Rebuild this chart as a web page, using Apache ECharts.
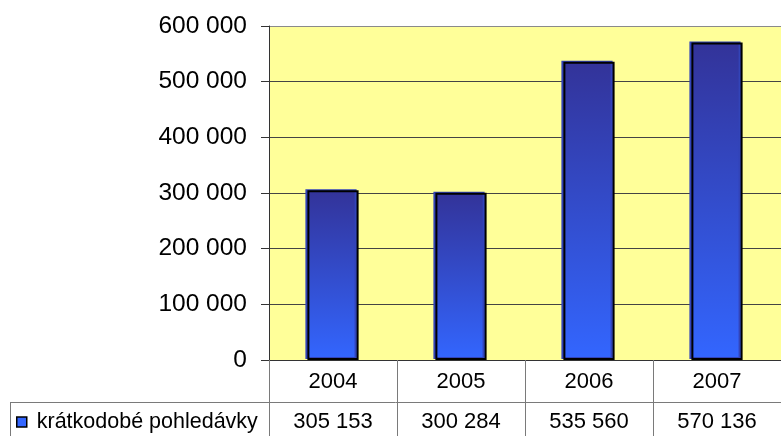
<!DOCTYPE html>
<html>
<head>
<meta charset="utf-8">
<script src="https://cdn.jsdelivr.net/npm/echarts@6/dist/echarts.min.js"></script>
<style>
  html, body { margin: 0; padding: 0; background: #fff; }
  #chart { width: 781px; height: 436px; }
</style>
</head>
<body>
<div id="chart"></div>
<script>
// Receivables by year
const years = ['2004', '2005', '2006', '2007'];
const receivables = [305153, 300284, 535560, 570136];
const seriesName = 'krátkodobé pohledávky';
const yTicks = [0, 100000, 200000, 300000, 400000, 500000, 600000];

const FONT = '"Liberation Sans", Arial, sans-serif';
const FS_TABLE = 22;
const FS_LEGEND = 21.5;
const FS_AXIS = 24.5;

// thousands grouped with a space, e.g. 305 153
function group(n) {
  return String(n).replace(/\B(?=(\d{3})+(?!\d))/g, ' ');
}

const chart = echarts.init(document.getElementById('chart'), null, { renderer: 'canvas' });

const gridLeft = 269, gridTop = 26, gridBottom = 76, tableRowY = 402;

chart.setOption({
  animation: false,
  backgroundColor: '#ffffff',
  grid: {
    left: gridLeft, top: gridTop, right: -9, bottom: gridBottom,
    show: true, backgroundColor: '#FFFF99', borderWidth: 0
  },
  legend: {
    data: [seriesName],
    left: 16, top: 411,
    icon: 'rect', itemWidth: 10, itemHeight: 10, itemGap: 0,
    padding: 0,
    itemStyle: { color: '#3366FF', borderColor: '#000', borderWidth: 1.5 },
    textStyle: { fontFamily: FONT, fontSize: FS_LEGEND, color: '#000', padding: [0, 0, 0, 5] }
  },
  xAxis: [
    {
      type: 'category',
      data: years,
      position: 'bottom',
      boundaryGap: true,
      axisLine: { show: true, lineStyle: { color: '#333', width: 1 } },
      axisTick: { show: true, length: 80, lineStyle: { color: '#7a7a7a', width: 1 } },
      axisLabel: { margin: 11, fontFamily: FONT, fontSize: FS_TABLE, color: '#000' },
      splitLine: { show: false }
    },
    {
      type: 'category',
      data: years,
      position: 'bottom',
      offset: tableRowY - (436 - gridBottom),
      boundaryGap: true,
      axisLine: { show: false },
      axisTick: { show: false },
      axisLabel: {
        margin: 9, fontFamily: FONT, fontSize: FS_TABLE, color: '#000',
        formatter: (v, i) => group(receivables[i])
      },
      splitLine: { show: false }
    }
  ],
  yAxis: {
    type: 'value',
    min: yTicks[0], max: yTicks[yTicks.length - 1], interval: yTicks[1] - yTicks[0],
    axisLine: { show: true, lineStyle: { color: '#333', width: 1 } },
    axisTick: { show: true, length: 8, lineStyle: { color: '#333', width: 1 } },
    axisLabel: {
      margin: 22, fontFamily: FONT, fontSize: FS_AXIS, color: '#000',
      formatter: v => group(v)
    },
    splitLine: {
      show: true,
      lineStyle: { color: ['#444', '#444', '#444', '#444', '#444', '#444', '#8a8a8a'], width: 1 }
    }
  },
  series: [{
    name: seriesName,
    type: 'bar',
    data: receivables,
    barWidth: '40%',
    itemStyle: {
      color: new echarts.graphic.LinearGradient(0, 0, 0, 1, [
        { offset: 0, color: '#333399' },
        { offset: 1, color: '#3366FF' }
      ]),
      borderColor: '#000',
      borderWidth: 2,
      shadowColor: '#3344b8',
      shadowOffsetX: -2,
      shadowOffsetY: -1,
      shadowBlur: 0
    },
    emphasis: { disabled: true }
  }],
  graphic: [
    // data-table frame: row separator and legend cell edge
    {
      type: 'line', silent: true,
      shape: { x1: 10, y1: tableRowY + 0.5, x2: 781, y2: tableRowY + 0.5 },
      style: { stroke: '#7a7a7a', lineWidth: 1 }
    },
    {
      type: 'line', silent: true,
      shape: { x1: 10.5, y1: tableRowY, x2: 10.5, y2: 436 },
      style: { stroke: '#7a7a7a', lineWidth: 1 }
    }
  ]
});
</script>
</body>
</html>
